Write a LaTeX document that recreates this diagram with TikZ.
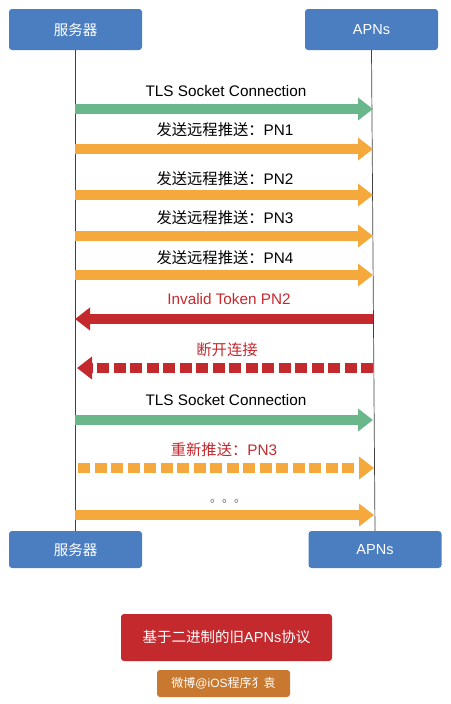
\documentclass[tikz,border=0pt]{standalone}
\usepackage{fontspec}
\setmainfont{Liberation Sans}
\newfontfamily\cjk{Noto Sans CJK SC}
\usetikzlibrary{arrows.meta}
\definecolor{boxblue}{HTML}{4B7EC1}
\definecolor{agreen}{HTML}{6AB78B}
\definecolor{aorange}{HTML}{F5A93C}
\definecolor{ared}{HTML}{C4292E}
\definecolor{wmark}{HTML}{C8782F}
\tikzset{
  actor/.style={draw=none, fill=boxblue, rounded corners=3pt, text=white, minimum width=133pt, font=\fontsize{14.5}{16}\selectfont},
  lifeline/.style={draw=black!75, line width=0.7pt},
  msg/.style={line width=10pt, -{Triangle[length=15pt,width=22pt]}},
  dmsg/.style={msg, dash pattern=on 12pt off 4.5pt},
  lbl/.style={font=\fontsize{15.3}{17}\selectfont, inner sep=0pt},
}
\begin{document}
\begin{tikzpicture}[x=1pt,y=-1pt]
\useasboundingbox (0,0) rectangle (450,704);
% actors
\node[actor, minimum height=41pt] (s1) at (75.5,29.5) {\cjk 服务器};
\node[actor, minimum height=41pt] (a1) at (371.5,29.5) {APNs};
\node[actor, minimum height=37pt] (s2) at (75.5,549.5) {\cjk 服务器};
\node[actor, minimum height=37pt] (a2) at (375,549.5) {APNs};
\draw[lifeline] (s1.south) -- (s2.north);
\draw[lifeline] (a1.south) -- (a2.north);
% anchor points on lifelines
\foreach \n/\y in {1/109,2/149,3/195,4/236,5/275,6/319,7/368,8/420,9/468,10/515}{
  \coordinate (L\n) at (75,\y);
  \coordinate (R\n) at (373,\y);
}
% messages
\draw[msg, agreen] (L1) -- (R1);
\node[lbl] (t1) at (226,91) {TLS Socket Connection};
\draw[msg, aorange] (L2) -- (R2);
\node[lbl] (t2) at (225,130) {{\cjk 发送远程推送：}PN1};
\draw[msg, aorange] (L3) -- (R3);
\node[lbl] (t3) at (225,179) {{\cjk 发送远程推送：}PN2};
\draw[msg, aorange] (L4) -- (R4);
\node[lbl] (t4) at (225,218) {{\cjk 发送远程推送：}PN3};
\draw[msg, aorange] (L5) -- (R5);
\node[lbl] (t5) at (225,258) {{\cjk 发送远程推送：}PN4};
\draw[msg, ared] (R6) -- (L6);
\node[lbl, text=ared] (t6) at (229,299) {Invalid Token PN2};
\draw[dmsg, ared] (R7) -- ([xshift=2pt]L7);
\node[lbl, text=ared] (t7) at (227,350) {\cjk 断开连接};
\draw[msg, agreen] (L8) -- (R8);
\node[lbl] (t8) at (226,400) {TLS Socket Connection};
\draw[dmsg, aorange] ([xshift=3pt]L9) -- ([xshift=1pt]R9);
\node[lbl, text=ared] (t9) at (224,450) {{\cjk 重新推送：}PN3};
\node[lbl, text=black!60, font=\fontsize{12}{14}\selectfont\cjk] (t10) at (228,501) {。。。};
\draw[msg, aorange] (L10) -- ([xshift=1pt]R10);
% footer
\node[draw=none, fill=ared, rounded corners=3pt, text=white, minimum width=211pt, minimum height=47pt, font=\fontsize{14.5}{16}\selectfont] (title) at (226.5,637.5) {{\cjk 基于二进制的旧}APNs{\cjk 协议}};
\node[draw=none, fill=wmark, rounded corners=3pt, text=white, minimum width=133pt, minimum height=27pt, font=\fontsize{12}{14}\selectfont] (wm) at (223.5,683.5) {{\cjk 微博}@iOS{\cjk 程序犭袁}};
\end{tikzpicture}
\end{document}
